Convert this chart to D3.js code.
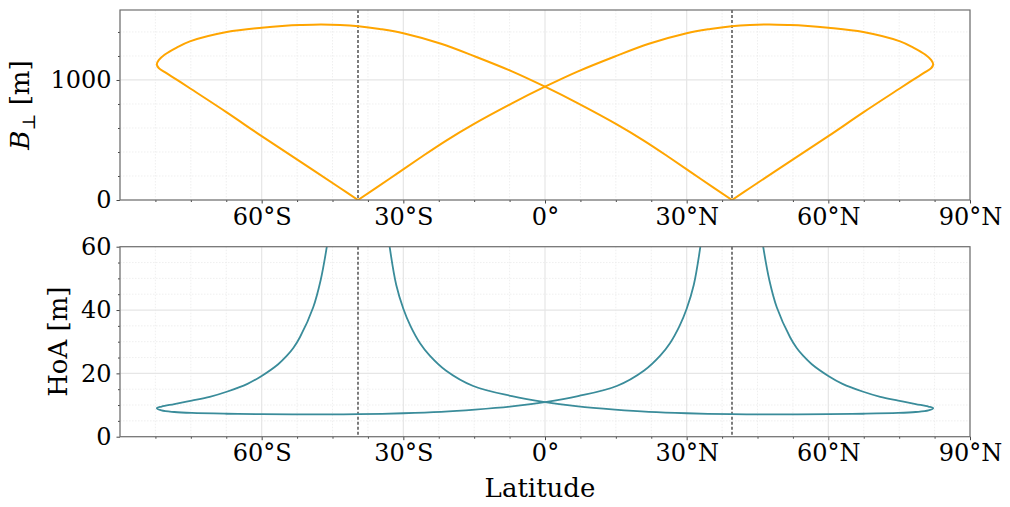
<!DOCTYPE html>
<html>
<head>
<meta charset="utf-8">
<script src="https://cdn.jsdelivr.net/npm/d3@7"></script>
<style>
  body { margin: 0; background: #fff; }
  svg { display: block; }
  text { font-family: "DejaVu Serif", serif; fill: #000; }
</style>
</head>
<body>
<svg id="chart" width="1010" height="507"></svg>
<script>
// latitude ticks (degrees) and their labels
const xMajor = [-60, -30, 0, 30, 60, 90];
const xMajorLabels = ["60°S", "30°S", "0°", "30°N", "60°N", "90°N"];
const xGridMajor = [-90, -60, -30, 0, 30, 60, 90];
const xMinor = d3.range(-90, 90.1, 7.5);

// dashed reference latitudes
const refLats = [-39.6, 39.6];

// B_perp [m], branch 1 (turns at the southern end)
const bpLatS = [-39.6, -43.4, -51.9, -60.0, -67.4, -75.2, -78.0, -80.5, -81.8, -82.2, -81.8, -80.5, -78.0, -75.2, -67.4, -60.0, -55.0, -51.9, -47.5, -43.4, -39.5, -35.0, -30.0, -22.0, -14.8, -7.0, 0, 7.0, 15.2, 21.0, 26.5, 33.0, 39.6];
const bpValS = [0, 100, 322, 532, 730, 931, 1003, 1065, 1100, 1130, 1165, 1212, 1270, 1322, 1400, 1436, 1452, 1458, 1463, 1459, 1448, 1425, 1390, 1302, 1196, 1072, 944, 805, 630, 493, 350, 175, 0];
// B_perp [m], branch 2 (turns at the northern end)
const bpLatN = [-39.6, -33.0, -26.5, -21.0, -15.2, -7.0, 0, 7.0, 14.8, 22.0, 30.0, 35.0, 39.5, 43.4, 47.5, 51.9, 55.0, 60.0, 67.4, 75.2, 78.0, 80.5, 81.8, 82.2, 81.8, 80.5, 78.0, 75.2, 67.4, 60.0, 51.9, 43.4, 39.6];
const bpValN = [0, 175, 350, 493, 630, 805, 944, 1072, 1196, 1302, 1390, 1425, 1448, 1459, 1463, 1458, 1452, 1436, 1400, 1322, 1270, 1212, 1165, 1130, 1100, 1065, 1003, 931, 730, 532, 322, 100, 0];

// HoA [m], branch 1
const hoaLatS = [-46.2, -47.5, -49.1, -51.9, -53.3, -54.7, -56.5, -60.0, -63.0, -67.4, -71.0, -74.8, -78.5, -81.2, -82.2, -81.2, -78.5, -74.8, -67.4, -60.0, -47.0, -39.5, -30.0, -22.0, -14.8, -7.0, 0, 7.0, 15.2, 21.0, 24.4, 26.5, 28.5, 30.0, 31.5, 32.9];
const hoaValS = [60, 49.5, 40.8, 31.4, 28.0, 25.5, 22.9, 19.2, 16.7, 14.2, 12.6, 11.4, 10.3, 9.5, 9.0, 8.3, 7.8, 7.5, 7.25, 7.12, 7.03, 7.1, 7.4, 7.85, 8.55, 9.55, 10.9, 12.8, 16.0, 20.9, 25.6, 29.6, 35, 40.4, 47.9, 60];
// HoA [m], branch 2
const hoaLatN = [-32.9, -31.5, -30.0, -28.5, -26.5, -24.4, -21.0, -15.2, -7.0, 0, 7.0, 14.8, 22.0, 30.0, 39.5, 47.0, 60.0, 67.4, 74.8, 78.5, 81.2, 82.2, 81.2, 78.5, 74.8, 71.0, 67.4, 63.0, 60.0, 56.5, 54.7, 53.3, 51.9, 49.1, 47.5, 46.2];
const hoaValN = [60, 47.9, 40.4, 35, 29.6, 25.6, 20.9, 16.0, 12.8, 10.9, 9.55, 8.55, 7.85, 7.4, 7.1, 7.03, 7.12, 7.25, 7.5, 7.8, 8.3, 9.0, 9.5, 10.3, 11.4, 12.6, 14.2, 16.7, 19.2, 22.9, 25.5, 28.0, 31.4, 40.8, 49.5, 60];

const width = 1010, height = 507;
const svg = d3.select("#chart");

const left = 120, right = 970;
const x = d3.scaleLinear().domain([-90, 90]).range([left, right]);

function zip(lats, vals) {
  return lats.map((d, i) => [d, vals[i]]);
}

function drawPanel({ id, top, bottom, yDomain, yMajor, yMinor, branches, color, lineWidth, yLabel, yLabelX }) {
  const y = d3.scaleLinear().domain(yDomain).range([bottom, top]);
  const g = svg.append("g");

  // grid: minor first, then major
  g.append("g")
    .selectAll("line")
    .data(xMinor.filter((d) => !xGridMajor.includes(d)))
    .join("line")
    .attr("x1", (d) => x(d)).attr("x2", (d) => x(d))
    .attr("y1", top).attr("y2", bottom)
    .attr("stroke", "#ebebeb").attr("stroke-width", 0.8)
    .attr("stroke-dasharray", "1.5,1.5");
  g.append("g")
    .selectAll("line")
    .data(yMinor.filter((d) => !yMajor.includes(d)))
    .join("line")
    .attr("x1", left).attr("x2", right)
    .attr("y1", (d) => y(d)).attr("y2", (d) => y(d))
    .attr("stroke", "#ebebeb").attr("stroke-width", 0.8)
    .attr("stroke-dasharray", "1.5,1.5");
  g.append("g")
    .selectAll("line")
    .data(xGridMajor)
    .join("line")
    .attr("x1", (d) => x(d)).attr("x2", (d) => x(d))
    .attr("y1", top).attr("y2", bottom)
    .attr("stroke", "#e6e6e6").attr("stroke-width", 1.2);
  g.append("g")
    .selectAll("line")
    .data(yMajor)
    .join("line")
    .attr("x1", left).attr("x2", right)
    .attr("y1", (d) => y(d)).attr("y2", (d) => y(d))
    .attr("stroke", "#e6e6e6").attr("stroke-width", 1.2);

  // dashed reference lines
  g.append("g")
    .selectAll("line")
    .data(refLats)
    .join("line")
    .attr("x1", (d) => x(d)).attr("x2", (d) => x(d))
    .attr("y1", top).attr("y2", bottom)
    .attr("stroke", "#111").attr("stroke-width", 1.1)
    .attr("stroke-dasharray", "3,2");

  // curves
  svg.append("clipPath").attr("id", "clip" + id)
    .append("rect")
    .attr("x", left).attr("y", top)
    .attr("width", right - left).attr("height", bottom - top);

  const line = d3.line()
    .x((d) => x(d[0]))
    .y((d) => y(d[1]))
    .curve(d3.curveCatmullRom.alpha(0.5));

  g.append("g")
    .attr("clip-path", `url(#clip${id})`)
    .selectAll("path")
    .data(branches)
    .join("path")
    .attr("d", line)
    .attr("fill", "none")
    .attr("stroke", color)
    .attr("stroke-width", lineWidth)
    .attr("stroke-linejoin", "round");

  // axes
  const xAxis = d3.axisBottom(x)
    .tickValues(xMajor)
    .tickSize(3.5)
    .tickPadding(4)
    .tickFormat((d, i) => xMajorLabels[i]);
  const xAx = g.append("g").attr("transform", `translate(0,${bottom})`).call(xAxis);
  xAx.select(".domain").remove();
  xAx.selectAll(".tick line").attr("stroke", "#444");
  xAx.selectAll(".tick text")
    .attr("font-size", 24)
    .attr("font-family", "DejaVu Serif")
    .attr("fill", "#000")
    .attr("dy", "0.72em");

  const xMinorAx = g.append("g").attr("transform", `translate(0,${bottom})`)
    .call(d3.axisBottom(x).tickValues(xMinor.filter((d) => !xGridMajor.includes(d))).tickSize(2).tickFormat(""));
  xMinorAx.select(".domain").remove();
  xMinorAx.selectAll(".tick line").attr("stroke", "#444");

  const yAxis = d3.axisLeft(y)
    .tickValues(yMajor)
    .tickSize(3.5)
    .tickPadding(5)
    .tickFormat(d3.format("d"));
  const yAx = g.append("g").attr("transform", `translate(${left},0)`).call(yAxis);
  yAx.select(".domain").remove();
  yAx.selectAll(".tick line").attr("stroke", "#444");
  yAx.selectAll(".tick text")
    .attr("font-size", 24)
    .attr("font-family", "DejaVu Serif")
    .attr("fill", "#000");

  const yMinorAx = g.append("g").attr("transform", `translate(${left},0)`)
    .call(d3.axisLeft(y).tickValues(yMinor.filter((d) => !yMajor.includes(d))).tickSize(2).tickFormat(""));
  yMinorAx.select(".domain").remove();
  yMinorAx.selectAll(".tick line").attr("stroke", "#444");

  // frame
  g.append("rect")
    .attr("x", left).attr("y", top)
    .attr("width", right - left).attr("height", bottom - top)
    .attr("fill", "none")
    .attr("stroke", "#707070")
    .attr("stroke-width", 1.2);

  // y label
  const lab = g.append("text")
    .attr("transform", `translate(${yLabelX},${(top + bottom) / 2}) rotate(-90)`)
    .attr("text-anchor", "middle")
    .attr("font-size", 26);
  yLabel(lab);
}

drawPanel({
  id: "top",
  top: 10,
  bottom: 200,
  yDomain: [0, 1583],
  yMajor: [0, 1000],
  yMinor: d3.range(0, 1583, 200),
  branches: [zip(bpLatS, bpValS), zip(bpLatN, bpValN)],
  color: "#FFA500",
  lineWidth: 2,
  yLabelX: 29,
  yLabel: (t) => {
    t.append("tspan").attr("font-style", "italic").text("B");
    t.append("tspan").attr("font-size", 18).attr("dy", 6).text("⊥");
    t.append("tspan").attr("dy", -6).text(" [m]");
  },
});

drawPanel({
  id: "bottom",
  top: 246.7,
  bottom: 436.7,
  yDomain: [0, 60],
  yMajor: [0, 20, 40, 60],
  yMinor: d3.range(0, 61, 5),
  branches: [zip(hoaLatS, hoaValS), zip(hoaLatN, hoaValN)],
  color: "#3a8c9a",
  lineWidth: 1.8,
  yLabelX: 67,
  yLabel: (t) => t.text("HoA [m]"),
});

svg.append("text")
  .attr("x", 540)
  .attr("y", 497)
  .attr("text-anchor", "middle")
  .attr("font-size", 26)
  .text("Latitude");
</script>
</body>
</html>
